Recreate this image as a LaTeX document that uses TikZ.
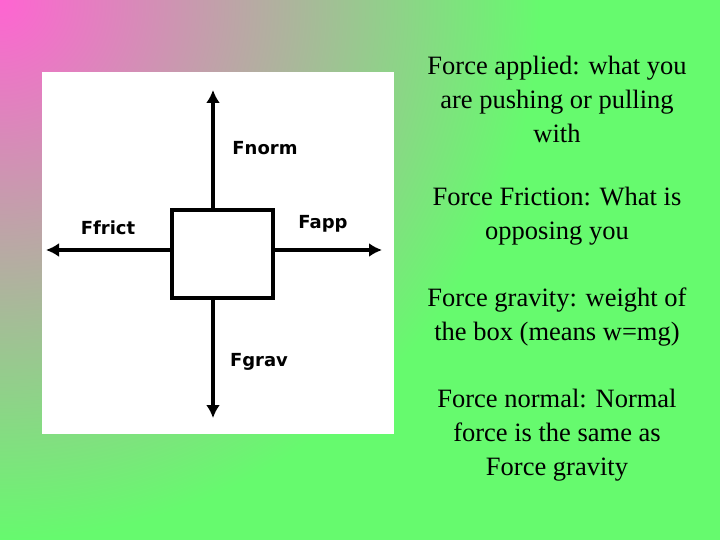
\documentclass[tikz,border=0pt]{standalone}
\usepackage{fontspec}
\usetikzlibrary{arrows.meta}
\setmainfont{Liberation Serif}
\newfontfamily\lab{DejaVu Sans}
\begin{document}
\begin{tikzpicture}[x=1pt,y=-1pt,
  lbl/.style={font=\lab\bfseries\fontsize{18}{18}\selectfont},
  txt/.style={align=center,font=\fontsize{26.5}{34}\selectfont},
  arr/.style={line width=4pt,-{Latex[length=13pt,width=14pt]}}]
\useasboundingbox (0,0) rectangle (720,540);
\fill[color={rgb,255:red,102;green,250;blue,110}] (0,0) rectangle (720,540);
\begin{scope}
\clip (0,0) rectangle (720,540);
\shade[inner color={rgb,255:red,255;green,100;blue,210},outer color={rgb,255:red,102;green,250;blue,110}] (0,0) circle (540);
\end{scope}
\fill[white] (42,72) rectangle (394,434);
\node[draw,line width=4pt,minimum width=101pt,minimum height=88pt,inner sep=0] (box) at (222.5,254) {};
\coordinate (t) at (213,90); \coordinate (b) at (213,418);
\coordinate (l) at (46,250); \coordinate (r) at (382,250);
\draw[arr] (box.north-|t) -- (t);
\draw[arr] (box.south-|b) -- (b);
\draw[arr] (box.west|-l) -- (l);
\draw[arr] (box.east|-r) -- (r);
\node[lbl] (fn) at (265,148) {Fnorm};
\node[lbl] (ff) at (108,228) {Ffrict};
\node[lbl] (fa) at (323,224) {Fapp};
\node[lbl] (fg) at (259,362) {Fgrav};
\node[txt] (t1) at (557,99) {Force applied: what you\\are pushing or pulling\\with};
\node[txt] (t2) at (557,216) {Force Friction: What is\\opposing you};
\node[txt] (t3) at (557,317) {Force gravity: weight of\\the box (means w=mg)};
\node[txt] (t4) at (557,435) {Force normal: Normal\\force is the same as\\Force gravity};
\end{tikzpicture}
\end{document}
